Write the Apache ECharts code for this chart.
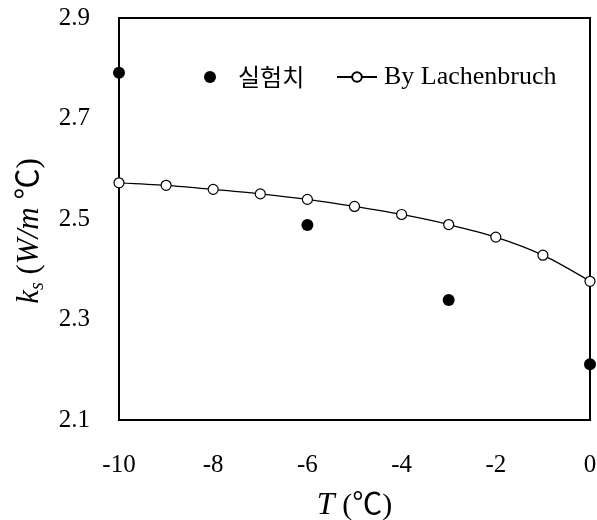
<!DOCTYPE html>
<html>
<head>
<meta charset="utf-8">
<script src="https://cdn.jsdelivr.net/npm/echarts@6/dist/echarts.min.js"></script>
<style>
html,body{margin:0;padding:0;background:#fff;}
#chart{width:597px;height:520px;}
</style>
</head>
<body>
<div id="chart"></div>
<script>
// Data
var temps = [-10, -9, -8, -7, -6, -5, -4, -3, -2, -1, 0];
var lachenbruch = [2.572, 2.567, 2.559, 2.550, 2.539, 2.525, 2.509, 2.489, 2.464, 2.428, 2.376];
var expTemps = [-10, -6, -3, 0];
var expValues = [2.791, 2.488, 2.339, 2.211];
var xTicks = [-10, -8, -6, -4, -2, 0];
var yTicks = [2.1, 2.3, 2.5, 2.7, 2.9];
var seriesNames = ['실험치', 'By Lachenbruch'];

var serif = "'Liberation Serif', 'Times New Roman', 'Noto Sans CJK KR', serif";
var chart = echarts.init(document.getElementById('chart'), null, {renderer: 'canvas'});

var expData = expTemps.map(function (t, i) { return [t, expValues[i]]; });
var lachData = temps.map(function (t, i) { return [t, lachenbruch[i]]; });

chart.setOption({
  backgroundColor: '#fff',
  animation: false,
  grid: {
    left: 119, right: 7, top: 18, bottom: 100,
    outerBoundsMode: 'none',
    containLabel: false,
    show: true, borderColor: '#000', borderWidth: 2, backgroundColor: '#fff'
  },
  legend: [
    {
      data: [seriesNames[0]],
      left: 199, top: 57,
      itemWidth: 12, itemHeight: 12,
      itemStyle: { opacity: 1 },
      textStyle: { fontFamily: "'Noto Sans CJK KR', sans-serif", fontSize: 24, color: '#000', padding: [0, 0, 0, 17], lineHeight: 30 }
    },
    {
      data: [seriesNames[1]],
      left: 331, top: 57,
      itemWidth: 40, itemHeight: 12,
      textStyle: { fontFamily: serif, fontSize: 26, color: '#000', padding: [0, 0, 0, 2], lineHeight: 30 }
    }
  ],
  xAxis: {
    type: 'value',
    min: xTicks[0], max: xTicks[xTicks.length - 1], interval: 2,
    axisLine: { show: true, lineStyle: { color: '#000', width: 2 } },
    axisTick: { show: false },
    splitLine: { show: false },
    axisLabel: { color: '#000', fontFamily: serif, fontSize: 25, margin: 33,
      formatter: function (v) { return String(v); } },
    name: '{i|T}{n| (℃)}',
    nameLocation: 'middle',
    nameGap: 69,
    nameTextStyle: {
      rich: {
        i: { fontFamily: serif, fontStyle: 'italic', fontSize: 32, color: '#000', lineHeight: 34 },
        n: { fontFamily: serif, fontSize: 30, color: '#000', lineHeight: 34 }
      }
    }
  },
  yAxis: {
    type: 'value',
    min: yTicks[0], max: yTicks[yTicks.length - 1], interval: 0.2,
    axisLine: { show: true, lineStyle: { color: '#000', width: 2 } },
    axisTick: { show: false },
    splitLine: { show: false },
    axisLabel: { color: '#000', fontFamily: serif, fontSize: 25, margin: 29,
      formatter: function (v) { return v.toFixed(1); } },
    name: '{i|k}{s|s}{n| (}{i|W/m}{n| ℃)}',
    nameLocation: 'middle',
    nameGap: 70,
    nameTextStyle: {
      padding: [0, 24, 0, 0],
      rich: {
        i: { fontFamily: serif, fontStyle: 'italic', fontSize: 31, color: '#000', lineHeight: 36 },
        s: { fontFamily: serif, fontStyle: 'italic', fontSize: 20, color: '#000', lineHeight: 18, verticalAlign: 'bottom' },
        n: { fontFamily: serif, fontSize: 31, color: '#000', lineHeight: 36 }
      }
    }
  },
  series: [
    {
      name: seriesNames[0],
      type: 'scatter',
      data: expData,
      symbol: 'circle',
      symbolSize: 12,
      itemStyle: { color: '#000', opacity: 1 },
      clip: false,
      z: 5
    },
    {
      name: seriesNames[1],
      type: 'line',
      data: lachData,
      smooth: 0.3,
      symbol: 'circle',
      symbolSize: 10,
      showSymbol: true,
      showAllSymbol: true,
      clip: false,
      lineStyle: { color: '#000', width: 1.3 },
      itemStyle: { color: '#fff', borderColor: '#000', borderWidth: 1.2 },
      z: 4
    }
  ]
});
</script>
</body>
</html>
